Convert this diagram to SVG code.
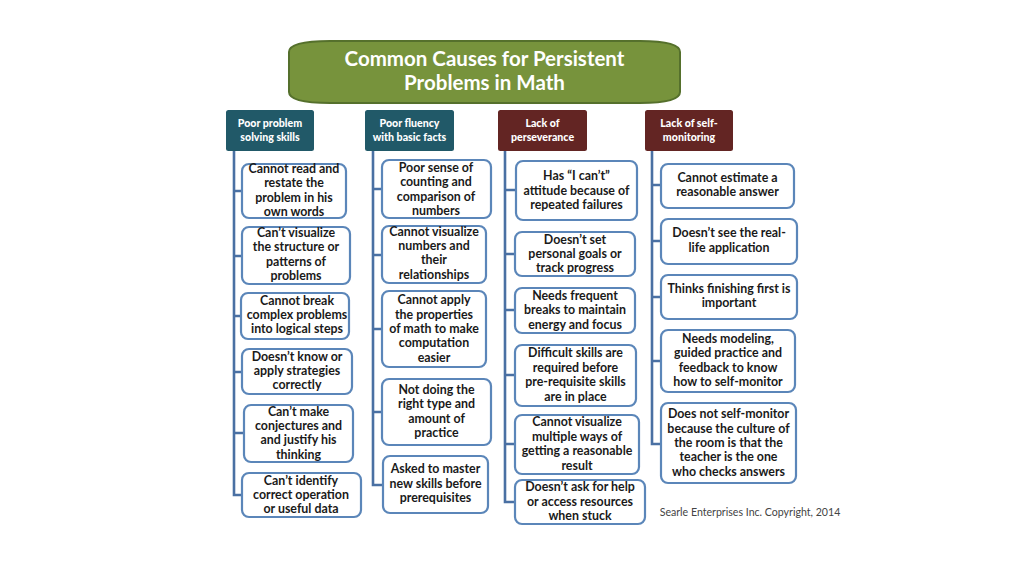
<svg xmlns="http://www.w3.org/2000/svg" width="1024" height="576" viewBox="0 0 1024 576">
<style>
text{font-family:Lato,"Open Sans","Liberation Sans",sans-serif;text-anchor:middle}
.b rect{fill:#fff;stroke:#5b86b9;stroke-width:2.2}
.b text{font-size:12.4px;font-weight:700;fill:#1a1a1a}
.t rect{fill:#215968}.m rect{fill:#632523}
.t text,.m text{font-size:10.6px;font-weight:900;fill:#fff}
#connectors path{fill:none;stroke:#4a70a3;stroke-width:2.6}
</style>
<rect width="1024" height="576" fill="#fff"/>
<g id="connectors">
<path d="M234 151V495H242M234 191H242M234 256H242M234 316H241M234 372H242M234 433H244"/>
<path d="M373 151V485H383M373 189H382M373 255H382M373 329H382M373 412H382"/>
<path d="M505 151V502H515M505 190H516M505 254H515M505 310H515M505 375H515M505 444H515"/>
<path d="M652 151V444H661M652 185H661M652 241H661M652 297H661M652 361H661"/>
</g>
<g id="title">
<path d="M289 52Q289 41 330 41H640Q680 41 680 52V92Q680 103 640 103H330Q289 103 289 92Z" fill="#77933c" stroke="#55702c" stroke-width="2"/>
<text x="484.500" y="66" font-size="20.500" font-weight="700" fill="#fff">Common Causes for Persistent</text>
<text x="484.500" y="90" font-size="20.500" font-weight="700" fill="#fff">Problems in Math</text>
</g>
<g id="h1" class="t"><rect x="226" y="110" width="88" height="41" rx="2.500"/><text x="270" y="127">Poor problem</text><text x="270" y="141">solving skills</text></g>
<g id="h2" class="t"><rect x="365" y="110" width="89" height="41" rx="2.500"/><text x="409.500" y="127">Poor fluency</text><text x="409.500" y="141">with basic facts</text></g>
<g id="h3" class="m"><rect x="498" y="110" width="89" height="41" rx="2.500"/><text x="542.500" y="127">Lack of</text><text x="542.500" y="141">perseverance</text></g>
<g id="h4" class="m"><rect x="645" y="110" width="88" height="41" rx="2.500"/><text x="689" y="127">Lack of self-</text><text x="689" y="141">monitoring</text></g>

<g id="a1" class="b"><rect x="242" y="164" width="104" height="54" rx="7"/><text x="294" y="173">Cannot read and</text><text x="294" y="187">restate the</text><text x="294" y="202">problem in his</text><text x="294" y="216">own words</text></g>
<g id="a2" class="b"><rect x="242" y="227" width="108" height="57" rx="7"/><text x="296" y="237">Can’t visualize</text><text x="296" y="251">the structure or</text><text x="296" y="266">patterns of</text><text x="296" y="280">problems</text></g>
<g id="a3" class="b"><rect x="241" y="293" width="108" height="46" rx="7"/><text x="297" y="305">Cannot break</text><text x="297" y="319">complex problems</text><text x="297" y="333">into logical steps</text></g>
<g id="a4" class="b"><rect x="242" y="349" width="110" height="45" rx="7"/><text x="297" y="361">Doesn’t know or</text><text x="297" y="375">apply strategies</text><text x="297" y="389">correctly</text></g>
<g id="a5" class="b"><rect x="244" y="405" width="109" height="57" rx="7"/><text x="298.500" y="416">Can’t make</text><text x="298.500" y="430">conjectures and</text><text x="298.500" y="444">and justify his</text><text x="298.500" y="459">thinking</text></g>
<g id="a6" class="b"><rect x="242" y="473" width="119" height="44" rx="7"/><text x="301" y="485">Can’t identify</text><text x="301" y="499">correct operation</text><text x="301" y="513">or useful data</text></g>

<g id="b1" class="b"><rect x="382" y="160" width="109" height="58" rx="7"/><text x="436" y="172">Poor sense of</text><text x="436" y="186">counting and</text><text x="436" y="201">comparison of</text><text x="436" y="215">numbers</text></g>
<g id="b2" class="b"><rect x="382" y="226" width="104" height="57" rx="7"/><text x="434" y="236">Cannot visualize</text><text x="434" y="250">numbers and</text><text x="434" y="264">their</text><text x="434" y="279">relationships</text></g>
<g id="b3" class="b"><rect x="382" y="291" width="104" height="76" rx="7"/><text x="434" y="304">Cannot apply</text><text x="434" y="319">the properties</text><text x="434" y="333">of math to make</text><text x="434" y="347">computation</text><text x="434" y="362">easier</text></g>
<g id="b4" class="b"><rect x="382" y="379" width="109" height="66" rx="7"/><text x="436.500" y="394">Not doing the</text><text x="436.500" y="408">right type and</text><text x="436.500" y="423">amount of</text><text x="436.500" y="437">practice</text></g>
<g id="b5" class="b"><rect x="383" y="456" width="105" height="57" rx="7"/><text x="435.500" y="473">Asked to master</text><text x="435.500" y="488">new skills before</text><text x="435.500" y="502">prerequisites</text></g>

<g id="c1" class="b"><rect x="516" y="161" width="121" height="59" rx="7"/><text x="576.500" y="180">Has “I can’t”</text><text x="576.500" y="195">attitude because of</text><text x="576.500" y="209">repeated failures</text></g>
<g id="c2" class="b"><rect x="515" y="232" width="120" height="44" rx="7"/><text x="575" y="244">Doesn’t set</text><text x="575" y="258">personal goals or</text><text x="575" y="272">track progress</text></g>
<g id="c3" class="b"><rect x="515" y="288" width="120" height="45" rx="7"/><text x="575" y="300">Needs frequent</text><text x="575" y="314">breaks to maintain</text><text x="575" y="329">energy and focus</text></g>
<g id="c4" class="b"><rect x="515" y="345" width="121" height="61" rx="7"/><text x="575.500" y="357">Difficult skills are</text><text x="575.500" y="372">required before</text><text x="575.500" y="386">pre-requisite skills</text><text x="575.500" y="401">are in place</text></g>
<g id="c5" class="b"><rect x="515" y="415" width="124" height="59" rx="7"/><text x="577" y="426">Cannot visualize</text><text x="577" y="441">multiple ways of</text><text x="577" y="455">getting a reasonable</text><text x="577" y="470">result</text></g>
<g id="c6" class="b"><rect x="515" y="480" width="130" height="44" rx="7"/><text x="580" y="491">Doesn’t ask for help</text><text x="580" y="506">or access resources</text><text x="580" y="520">when stuck</text></g>

<g id="d1" class="b"><rect x="661" y="164" width="133" height="44" rx="7"/><text x="727.500" y="182">Cannot estimate a</text><text x="727.500" y="196">reasonable answer</text></g>
<g id="d2" class="b"><rect x="661" y="219" width="136" height="45" rx="7"/><text x="729" y="237">Doesn’t see the real-</text><text x="729" y="252">life application</text></g>
<g id="d3" class="b"><rect x="661" y="275" width="136" height="44" rx="7"/><text x="729" y="293">Thinks finishing first is</text><text x="729" y="307">important</text></g>
<g id="d4" class="b"><rect x="661" y="330" width="134" height="62" rx="7"/><text x="728" y="343">Needs modeling,</text><text x="728" y="357">guided practice and</text><text x="728" y="372">feedback to know</text><text x="728" y="386">how to self-monitor</text></g>
<g id="d5" class="b"><rect x="661" y="403" width="135" height="80" rx="7"/><text x="728.500" y="418">Does not self-monitor</text><text x="728.500" y="433">because the culture of</text><text x="728.500" y="447">the room is that the</text><text x="728.500" y="461">teacher is the one</text><text x="728.500" y="476">who checks answers</text></g>
<text x="750" y="516" font-size="10.600" fill="#444">Searle Enterprises Inc.  Copyright, 2014</text>
</svg>
